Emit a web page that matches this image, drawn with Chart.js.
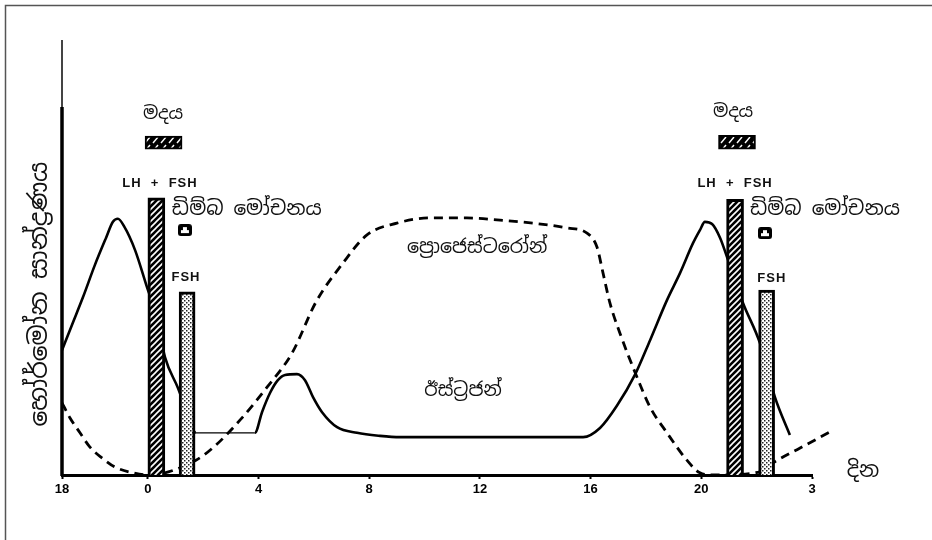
<!DOCTYPE html>
<html>
<head>
<meta charset="utf-8">
<script src="https://cdn.jsdelivr.net/npm/chart.js@4.4.1/dist/chart.umd.min.js"></script>
<style>
  html, body { margin: 0; padding: 0; background: #fff; }
  #wrap { width: 932px; height: 540px; }
</style>
</head>
<body>
<div id="wrap"><canvas id="cycle"></canvas></div>
<script>
// days run from late previous cycle (18) through 0..20 and into the next cycle (3)
const tickDays = [-3.1, 0, 4, 8, 12, 16, 20, 24];
const tickLabels = ['18', '0', '4', '8', '12', '16', '20', '3'];

// estrogen (solid line)
const estrogenDays = [-3.1, -2.74, -2.34, -1.91, -1.51, -1.26, -1.08, -0.86, -0.46, -0.03, 0.3, 0.62, 1.09, 1.45, 1.74,
  3.87, 4.13, 4.42, 4.7, 4.96, 5.39, 5.68, 5.97, 6.29, 6.84, 7.56, 8.39, 9.11,
  15.73, 16.34, 16.95, 17.6, 18.15, 18.76, 19.23, 19.7, 19.95, 20.13, 20.39, 20.68, 20.93, 21.51, 22.12, 22.66, 23.2];
const estrogenLevels = [28.7, 34.5, 40.9, 48.3, 54.5, 58.2, 58.9, 57.2, 51.7, 43.2, 36.8, 27.1, 20, 13.8, 9.7,
  9.7, 14.5, 18.9, 21.8, 23, 23.2, 21.8, 17.9, 14.5, 11, 9.7, 9, 8.7,
  8.7, 10.8, 15.9, 23, 31, 40.2, 46.4, 53.3, 56.3, 58.2, 57.7, 54.5, 50.1, 39.5, 30.3, 17.9, 9.2];

// progesterone (dashed line)
const progesteroneDays = [-3.1, -2.81, -2.45, -2.09, -1.65, -1.18, -0.53, 0.01,
  1.74, 2.43, 3.33, 4.31, 5.21, 6.08, 7.05, 7.92, 9.0, 10.2, 11.53, 12.73, 13.92, 15.15, 15.87,
  16.23, 16.45, 16.7, 17.06, 17.6, 18.15, 18.76, 19.48, 19.95, 20.42, 22.12, 22.59, 23.57, 24.65];
const progesteroneLevels = [16.6, 13.1, 9.7, 6.4, 3.9, 1.8, 0.5, 0,
  3.4, 6.7, 12.6, 20.2, 28, 39.8, 48.7, 55.2, 57.9, 59.1, 59.1, 58.6, 57.9, 56.8, 55.6,
  52.4, 46.4, 39.5, 32.6, 23.7, 15.6, 9.7, 3.4, 0.5, 0, 0.7, 2.8, 6.2, 9.9];

// hormone surges (bars)
const lhFshDays = [0.31, 21.22];
const lhFshLevels = [63.7, 63.4];
const fshDays = [1.42, 22.36];
const fshLevels = [42.1, 42.5];

// estrus periods (small floating boxes)
const estrusDays = [0.57, 21.29];
const estrusLow = [74.9, 74.9];
const estrusHigh = [77.9, 78.1];

// ovulation markers
const ovulationDays = [1.34, 22.3];
const ovulationLevels = [56.3, 55.6];

const SINHALA = "'Noto Sans Sinhala', 'Noto Sans', sans-serif";
const BOLD = "bold 13px 'Liberation Sans', Arial, sans-serif";

function pairs(xs, ys) {
  return xs.map((x, i) => ({ x: x, y: ys[i] }));
}

function makePattern(size, draw) {
  const c = document.createElement('canvas');
  c.width = c.height = size;
  draw(c.getContext('2d'), size);
  return document.createElement('canvas').getContext('2d').createPattern(c, 'repeat');
}

// dark diagonal hatch for LH + FSH
const hatchDark = makePattern(6, (g, s) => {
  g.fillStyle = '#000'; g.fillRect(0, 0, s, s);
  g.strokeStyle = '#fff'; g.lineWidth = 1.6;
  g.beginPath();
  g.moveTo(0, s); g.lineTo(s, 0);
  g.moveTo(-s / 2, s / 2); g.lineTo(s / 2, -s / 2);
  g.moveTo(s / 2, s * 1.5); g.lineTo(s * 1.5, s / 2);
  g.stroke();
});

// speckled fill for FSH
const dots = makePattern(4, (g, s) => {
  g.fillStyle = '#fff'; g.fillRect(0, 0, s, s);
  g.fillStyle = '#222';
  g.fillRect(0, 0, 1.5, 1.5);
  g.fillRect(2, 2, 1.5, 1.5);
});

// estrus box fill
const hatchBox = makePattern(8, (g, s) => {
  g.fillStyle = '#000'; g.fillRect(0, 0, s, s);
  g.strokeStyle = '#fff'; g.lineWidth = 1.4;
  g.beginPath();
  g.moveTo(1, s - 1); g.lineTo(s - 2, 1);
  g.stroke();
});

// ovulation icon
const eggIcon = (() => {
  const c = document.createElement('canvas');
  c.width = 14; c.height = 12;
  const g = c.getContext('2d');
  g.fillStyle = '#000';
  g.beginPath();
  g.roundRect(0, 0, 14, 12, 3);
  g.fill();
  g.fillStyle = '#fff';
  g.fillRect(3, 6, 8, 3);
  g.fillRect(5, 3, 4, 3);
  return c;
})();

const labelsPlugin = {
  id: 'cycleLabels',
  afterDraw(chart) {
    const { ctx, chartArea: a, scales: { x, y } } = chart;
    ctx.save();

    // frame
    ctx.strokeStyle = '#555';
    ctx.lineWidth = 1.5;
    ctx.beginPath();
    ctx.moveTo(5.5, 540); ctx.lineTo(5.5, 5.5); ctx.lineTo(932, 5.5);
    ctx.stroke();

    // y axis: thin top part, heavy lower part
    ctx.strokeStyle = '#444';
    ctx.lineWidth = 2;
    ctx.beginPath();
    ctx.moveTo(a.left, a.top); ctx.lineTo(a.left, y.getPixelForValue(84.6));
    ctx.stroke();
    ctx.strokeStyle = '#000';
    ctx.lineWidth = 3.5;
    ctx.beginPath();
    ctx.moveTo(a.left, y.getPixelForValue(84.6)); ctx.lineTo(a.left, a.bottom + 1);
    ctx.stroke();

    const put = (text, dx, vy, font, align, spacing) => {
      ctx.font = font;
      ctx.letterSpacing = spacing || '0px';
      ctx.textAlign = align || 'center';
      ctx.textBaseline = 'middle';
      ctx.fillStyle = '#111';
      ctx.fillText(text, x.getPixelForValue(dx), y.getPixelForValue(vy));
    };

    put('මදය', 0.55, 83, '18px ' + SINHALA);
    put('මදය', 21.15, 83.4, '18px ' + SINHALA);
    put('LH  +  FSH', 0.44, 67.1, BOLD, 'center', '1px');
    put('LH  +  FSH', 21.22, 67.1, BOLD, 'center', '1px');
    put('ඩිම්බ මෝචනය', 0.87, 61.1, '20px ' + SINHALA, 'left');
    put('ඩිම්බ මෝචනය', 21.76, 61.1, '20px ' + SINHALA, 'left');
    put('FSH', 1.38, 45.5, BOLD, 'center', '1px');
    put('FSH', 22.55, 45.3, BOLD, 'center', '1px');
    put('ප්‍රොජෙස්ටරෝන්', 11.9, 52.2, '19px ' + SINHALA);
    put('ඊස්ට්‍රජන්', 11.39, 19.3, '19px ' + SINHALA);
    ctx.letterSpacing = '0px';

    // axis titles
    ctx.font = '21px ' + SINHALA;
    ctx.textAlign = 'center';
    ctx.fillText('දින', a.right + 51, a.bottom - 4);

    ctx.translate(40, 294);
    ctx.rotate(-Math.PI / 2);
    ctx.font = '25px ' + SINHALA;
    ctx.fillText('හෝර්මෝන සාන්ද්‍රණය', 0, 0);
    ctx.restore();
  }
};

const ctx = document.getElementById('cycle').getContext('2d');
new Chart(ctx, {
  type: 'line',
  data: {
    datasets: [
      {
        type: 'bar',
        label: 'LH + FSH',
        data: pairs(lhFshDays, lhFshLevels),
        backgroundColor: hatchDark,
        borderColor: '#000',
        borderWidth: 3,
        borderSkipped: 'bottom',
        barThickness: 17,
        grouped: false,
        order: 0
      },
      {
        type: 'bar',
        label: 'FSH',
        data: pairs(fshDays, fshLevels),
        backgroundColor: dots,
        borderColor: '#000',
        borderWidth: 3,
        borderSkipped: 'bottom',
        barThickness: 16,
        grouped: false,
        order: 0
      },
      {
        type: 'bar',
        label: 'මදය',
        data: estrusDays.map((d, i) => ({ x: d, y: [estrusLow[i], estrusHigh[i]] })),
        backgroundColor: hatchBox,
        borderColor: '#000',
        borderWidth: 2,
        borderSkipped: false,
        barThickness: 37,
        grouped: false,
        order: 0
      },
      {
        type: 'scatter',
        label: 'ඩිම්බ මෝචනය',
        data: pairs(ovulationDays, ovulationLevels),
        pointStyle: eggIcon,
        order: 0
      },
      {
        label: 'ඊස්ට්‍රජන්',
        data: pairs(estrogenDays, estrogenLevels),
        borderColor: '#000',
        borderWidth: 2.6,
        pointRadius: 0,
        cubicInterpolationMode: 'monotone',
        segment: {
          // the flat stretch after ovulation is drawn with a hairline
          borderWidth: c => (c.p0.parsed.x >= 1.7 && c.p1.parsed.x <= 3.9 ? 1.2 : 2.6)
        },
        order: 1
      },
      {
        label: 'ප්‍රොජෙස්ටරෝන්',
        data: pairs(progesteroneDays, progesteroneLevels),
        borderColor: '#000',
        borderWidth: 2.8,
        borderDash: [9, 6],
        pointRadius: 0,
        cubicInterpolationMode: 'monotone',
        clip: false,
        order: 1
      }
    ]
  },
  options: {
    responsive: true,
    maintainAspectRatio: false,
    animation: false,
    layout: { padding: { left: 62, top: 40, right: 120, bottom: 0 } },
    plugins: {
      legend: { display: false },
      tooltip: { enabled: false }
    },
    scales: {
      x: {
        type: 'linear',
        min: -3.1,
        max: 24,
        offset: false,
        afterBuildTicks: s => { s.ticks = tickDays.map(v => ({ value: v })); },
        afterFit: s => { s.height = 65; },
        ticks: {
          autoSkip: false,
          maxRotation: 0,
          padding: 3,
          color: '#000',
          font: { family: "'Liberation Sans', Arial, sans-serif", size: 13, weight: 'bold' },
          callback: (v, i) => tickLabels[i]
        },
        grid: {
          offset: false,
          drawOnChartArea: false,
          drawTicks: true,
          tickLength: 4,
          tickWidth: 2,
          color: '#000'
        },
        border: { display: true, color: '#000', width: 3 }
      },
      y: {
        display: false,
        min: 0,
        max: 100
      }
    }
  },
  plugins: [labelsPlugin]
});
</script>
</body>
</html>
